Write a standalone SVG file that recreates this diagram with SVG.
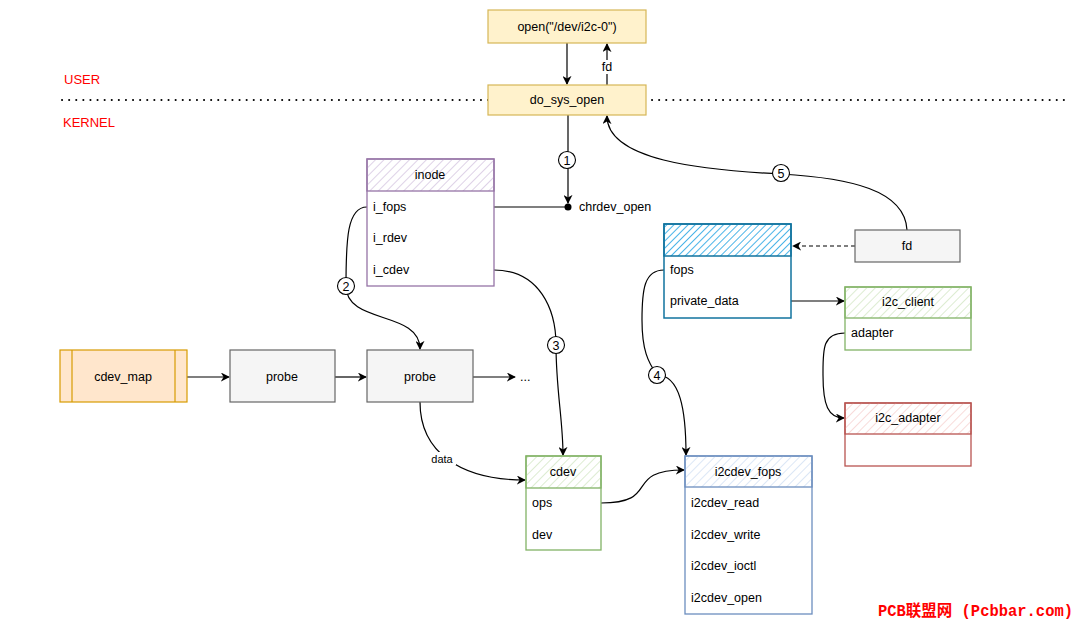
<svg xmlns="http://www.w3.org/2000/svg" width="1080" height="626" viewBox="0 0 1080 626">
<defs>
<style>
text{font-family:"Liberation Sans","DejaVu Sans",sans-serif;font-size:12.5px;fill:#000}
.c{text-anchor:middle}
.red{fill:#ff0000;font-size:13px}
.conn{fill:none;stroke:#000;stroke-width:1.2}
.yel{fill:#fff2cc;stroke:#d6b656;stroke-width:1.2}
.gray{fill:#f5f5f5;stroke:#666;stroke-width:1.2}
.org{fill:#ffe6cc;stroke:#d79b00;stroke-width:1.2}
.num{fill:#fff;stroke:#000;stroke-width:1.1}
</style>
<pattern id="hP" width="6" height="6" patternUnits="userSpaceOnUse" patternTransform="rotate(45)"><line x1="0" y1="0" x2="0" y2="6" stroke="#c8b3d6" stroke-width="1.2"/></pattern>
<pattern id="hG" width="6" height="6" patternUnits="userSpaceOnUse" patternTransform="rotate(45)"><line x1="0" y1="0" x2="0" y2="6" stroke="#c6e0b4" stroke-width="1.2"/></pattern>
<pattern id="hB" width="6" height="6" patternUnits="userSpaceOnUse" patternTransform="rotate(45)"><line x1="0" y1="0" x2="0" y2="6" stroke="#c5d7f0" stroke-width="1.2"/></pattern>
<pattern id="hR" width="6" height="6" patternUnits="userSpaceOnUse" patternTransform="rotate(45)"><line x1="0" y1="0" x2="0" y2="6" stroke="#f4c4c2" stroke-width="1.2"/></pattern>
<pattern id="hS" width="5" height="5" patternUnits="userSpaceOnUse" patternTransform="rotate(45)"><line x1="0" y1="0" x2="0" y2="5" stroke="#1ba1e2" stroke-width="1.6"/></pattern>
<marker id="arr" viewBox="0 0 10 10" refX="9" refY="5" markerWidth="9" markerHeight="9" orient="auto" markerUnits="userSpaceOnUse"><path d="M0,0 L10,5 L0,10 L3,5 z" fill="#000"/></marker>
</defs>

<g id="separator">
<line x1="62" y1="100" x2="488" y2="100" stroke="#000" stroke-width="2" stroke-dasharray="0.1 7" stroke-linecap="round"/>
<line x1="652" y1="100" x2="1065" y2="100" stroke="#000" stroke-width="2" stroke-dasharray="0.1 7" stroke-linecap="round"/>
<text class="red" x="64" y="84">USER</text>
<text class="red" x="63" y="127">KERNEL</text>
</g>

<g id="connectors">
<line class="conn" x1="567" y1="43" x2="567" y2="84" marker-end="url(#arr)"/>
<line class="conn" x1="607" y1="85" x2="607" y2="44" marker-end="url(#arr)"/>
<rect x="598" y="60" width="18" height="14" fill="#fff"/>
<text class="c" x="607" y="71">fd</text>
<line class="conn" x1="568" y1="115" x2="568" y2="203" marker-end="url(#arr)"/>
<line class="conn" x1="494" y1="207" x2="568" y2="207"/>
<circle cx="568" cy="207" r="3.5" fill="#000"/>
<path class="conn" d="M367,207 C347,207 346,240 346,286 C346,325 420,310 420,349" marker-end="url(#arr)"/>
<path class="conn" d="M494,270 C540,270 556,310 556,345 C556,390 563,420 563,455" marker-end="url(#arr)"/>
<line class="conn" x1="187" y1="377" x2="229" y2="377" marker-end="url(#arr)"/>
<line class="conn" x1="335" y1="377" x2="366" y2="377" marker-end="url(#arr)"/>
<line class="conn" x1="473" y1="377" x2="515" y2="377" marker-end="url(#arr)"/>
<text x="520" y="381">...</text>
<path class="conn" d="M420,402 C420,452 460,480 525,480" marker-end="url(#arr)"/>
<rect x="428" y="452" width="28" height="13" fill="#fff"/>
<text class="c" x="442" y="463" style="font-size:11px">data</text>
<path class="conn" d="M601,503 C662,503 622,470 684,470" marker-end="url(#arr)"/>
<path class="conn" d="M664,270 C644,270 642,290 642,320 C642,350 648,362 657,375 C680,375 686,410 686,455" marker-end="url(#arr)"/>
<path class="conn" d="M907,230 C905,190 850,178 781,174 C700,170 607,160 607,116" marker-end="url(#arr)"/>
<line class="conn" x1="855" y1="246" x2="793" y2="246" stroke-dasharray="4 3" marker-end="url(#arr)"/>
<line class="conn" x1="791" y1="301" x2="844" y2="301" marker-end="url(#arr)"/>
<path class="conn" d="M845,333 C822,333 823,350 823,375 C823,405 828,418 844,418" marker-end="url(#arr)"/>
<g id="labels">
<circle class="num" cx="567" cy="160" r="8.5"/><text class="c" x="567" y="164.5">1</text>
<circle class="num" cx="346" cy="286" r="8.5"/><text class="c" x="346" y="290.5">2</text>
<circle class="num" cx="556" cy="345" r="8.5"/><text class="c" x="556" y="349.5">3</text>
<circle class="num" cx="657" cy="375" r="8.5"/><text class="c" x="657" y="379.5">4</text>
<circle class="num" cx="781" cy="173" r="8.5"/><text class="c" x="781" y="177.5">5</text>
</g>
</g>

<g id="open">
<rect class="yel" x="488" y="10" width="158" height="33"/>
<text class="c" x="567" y="31">open("/dev/i2c-0")</text>
</g>
<g id="do_sys_open">
<rect class="yel" x="488" y="85" width="158" height="30"/>
<text class="c" x="567" y="104">do_sys_open</text>
</g>
<g id="chrdev_open">
<text x="579" y="211">chrdev_open</text>
</g>

<g id="inode">
<rect x="367" y="159" width="127" height="127" fill="#fff" stroke="#9673a6" stroke-width="1.3"/>
<rect x="367" y="159" width="127" height="32" fill="url(#hP)" stroke="#9673a6" stroke-width="1.3"/>
<text class="c" x="430" y="179">inode</text>
<text x="373" y="211">i_fops</text>
<text x="373" y="242">i_rdev</text>
<text x="373" y="274">i_cdev</text>
</g>

<g id="cdev_map">
<rect class="org" x="60" y="350" width="127" height="52"/>
<line x1="72" y1="350" x2="72" y2="402" stroke="#d79b00" stroke-width="1.2"/>
<line x1="175" y1="350" x2="175" y2="402" stroke="#d79b00" stroke-width="1.2"/>
<text class="c" x="123" y="381">cdev_map</text>
</g>
<g id="probe1">
<rect class="gray" x="230" y="350" width="105" height="52"/>
<text class="c" x="282" y="381">probe</text>
</g>
<g id="probe2">
<rect class="gray" x="367" y="350" width="106" height="52"/>
<text class="c" x="420" y="381">probe</text>
</g>

<g id="cdev">
<rect x="526" y="456" width="75" height="94" fill="#fff" stroke="#82b366" stroke-width="1.3"/>
<rect x="526" y="456" width="75" height="32" fill="url(#hG)" stroke="#82b366" stroke-width="1.3"/>
<text class="c" x="563" y="476">cdev</text>
<text x="532" y="507">ops</text>
<text x="532" y="539">dev</text>
</g>

<g id="i2cdev_fops">
<rect x="685" y="456" width="127" height="158" fill="#fff" stroke="#6c8ebf" stroke-width="1.3"/>
<rect x="685" y="456" width="127" height="31" fill="url(#hB)" stroke="#6c8ebf" stroke-width="1.3"/>
<text class="c" x="748" y="476">i2cdev_fops</text>
<text x="691" y="507">i2cdev_read</text>
<text x="691" y="539">i2cdev_write</text>
<text x="691" y="570">i2cdev_ioctl</text>
<text x="691" y="602">i2cdev_open</text>
</g>

<g id="file">
<rect x="664" y="224" width="127" height="94" fill="#fff" stroke="#10739e" stroke-width="1.5"/>
<rect x="664" y="224" width="127" height="32" fill="url(#hS)" stroke="#10739e" stroke-width="1.5"/>
<text x="670" y="274">fops</text>
<text x="670" y="305">private_data</text>
</g>

<g id="fd">
<rect class="gray" x="855" y="230" width="105" height="32"/>
<text class="c" x="907" y="250">fd</text>
</g>

<g id="i2c_client">
<rect x="845" y="287" width="126" height="63" fill="#fff" stroke="#82b366" stroke-width="1.3"/>
<rect x="845" y="287" width="126" height="31" fill="url(#hG)" stroke="#82b366" stroke-width="1.3"/>
<text class="c" x="908" y="306">i2c_client</text>
<text x="851" y="337">adapter</text>
</g>

<g id="i2c_adapter">
<rect x="845" y="403" width="126" height="63" fill="#fff" stroke="#b85450" stroke-width="1.3"/>
<rect x="845" y="403" width="126" height="31" fill="url(#hR)" stroke="#b85450" stroke-width="1.3"/>
<text class="c" x="908" y="422">i2c_adapter</text>
</g>

<g id="watermark">
<text x="878" y="616" textLength="195" lengthAdjust="spacingAndGlyphs" style="font-family:'Liberation Mono','Noto Sans CJK SC',monospace;font-size:16px;font-weight:bold;fill:#ff0000">PCB联盟网 (Pcbbar.com)</text>
</g>
</svg>
